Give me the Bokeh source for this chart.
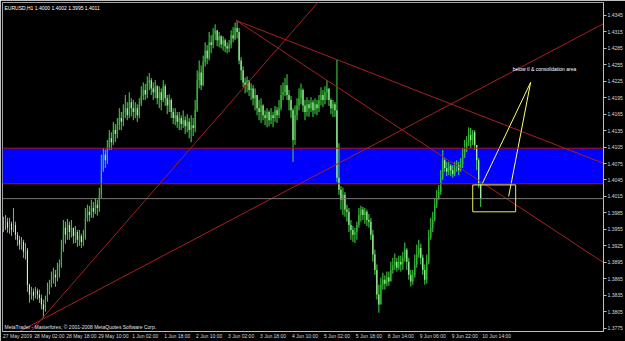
from bokeh.plotting import figure
from bokeh.models import (Range1d, FixedTicker, LinearAxis, PrintfTickFormatter, Span,
                          BoxAnnotation, Label, ColumnDataSource)
from bokeh.embed import file_html
from bokeh.resources import INLINE

# ---------------- data (EURUSD H1) ----------------
first_open = 1.3960
closes = [
    1.3963, 1.3969, 1.3958, 1.3965, 1.3954, 1.3963, 1.3945, 1.3936, 1.3927, 1.3932,
    1.3914, 1.3918, 1.3854, 1.3836, 1.3841, 1.3834, 1.3843, 1.3836, 1.3830, 1.3818,
    1.3809, 1.3827, 1.3841, 1.3854, 1.3863, 1.3872, 1.3867, 1.3881, 1.3889, 1.3918,
    1.3958, 1.3945, 1.3963, 1.3950, 1.3958, 1.3943, 1.3950, 1.3936, 1.3943, 1.3932,
    1.3940, 1.3976, 1.3987, 1.3981, 1.3994, 1.3987, 1.4000, 1.3994, 1.4018, 1.4063,
    1.4091, 1.4081, 1.4103, 1.4121, 1.4114, 1.4136, 1.4129, 1.4145, 1.4158, 1.4151,
    1.4169, 1.4176, 1.4163, 1.4187, 1.4176, 1.4169, 1.4176, 1.4163, 1.4183, 1.4198,
    1.4209, 1.4201, 1.4223, 1.4227, 1.4212, 1.4205, 1.4216, 1.4194, 1.4205, 1.4191,
    1.4216, 1.4194, 1.4181, 1.4191, 1.4169, 1.4158, 1.4163, 1.4151, 1.4158, 1.4147,
    1.4154, 1.4143, 1.4151, 1.4136, 1.4145, 1.4140, 1.4172, 1.4227, 1.4241, 1.4218,
    1.4260, 1.4281, 1.4267, 1.4296, 1.4291, 1.4311, 1.4318, 1.4300, 1.4307, 1.4292,
    1.4300, 1.4289, 1.4285, 1.4292, 1.4309, 1.4303, 1.4322, 1.4315, 1.4263, 1.4245,
    1.4223, 1.4218, 1.4227, 1.4209, 1.4212, 1.4194, 1.4200, 1.4176, 1.4169, 1.4181,
    1.4163, 1.4158, 1.4169, 1.4154, 1.4163, 1.4158, 1.4172, 1.4163, 1.4176, 1.4200,
    1.4205, 1.4218, 1.4200, 1.4191, 1.4172, 1.4118, 1.4163, 1.4181, 1.4194, 1.4209,
    1.4181, 1.4169, 1.4183, 1.4176, 1.4187, 1.4172, 1.4183, 1.4176, 1.4191, 1.4200,
    1.4191, 1.4205, 1.4212, 1.4191, 1.4176, 1.4183, 1.4172, 1.4049, 1.4027, 1.4009,
    1.4018, 1.3991, 1.3987, 1.3963, 1.3954, 1.3945, 1.3950, 1.3963, 1.3981, 1.3991,
    1.3981, 1.3987, 1.3972, 1.3969, 1.3945, 1.3909, 1.3881, 1.3836, 1.3818, 1.3854,
    1.3863, 1.3856, 1.3867, 1.3860, 1.3881, 1.3889, 1.3896, 1.3885, 1.3896, 1.3891,
    1.3903, 1.3918, 1.3896, 1.3872, 1.3860, 1.3871, 1.3891, 1.3909, 1.3921, 1.3903,
    1.3881, 1.3863, 1.3896, 1.3940, 1.3958, 1.3972, 1.4000, 1.4012, 1.4023, 1.4049,
    1.4081, 1.4067, 1.4060, 1.4071, 1.4063, 1.4056, 1.4067, 1.4072, 1.4063, 1.4074,
    1.4091, 1.4103, 1.4114, 1.4127, 1.4118, 1.4132, 1.4109, 1.4081, 1.4036, 1.4011,
]
highs = [
    1.3978, 1.3981, 1.3976, 1.3976, 1.3969, 1.3994, 1.3969, 1.3950, 1.3943, 1.3941,
    1.3936, 1.3930, 1.3921, 1.3856, 1.3850, 1.3847, 1.3850, 1.3847, 1.3845, 1.3836,
    1.3827, 1.3834, 1.3858, 1.3863, 1.3878, 1.3885, 1.3881, 1.3894, 1.3900, 1.3936,
    1.3972, 1.3969, 1.3974, 1.3969, 1.3972, 1.3958, 1.3961, 1.3954, 1.3954, 1.3947,
    1.3954, 1.3994, 1.4000, 1.3998, 1.4009, 1.4005, 1.4012, 1.4009, 1.4031, 1.4091,
    1.4103, 1.4100, 1.4118, 1.4136, 1.4132, 1.4151, 1.4147, 1.4158, 1.4176, 1.4169,
    1.4183, 1.4200, 1.4187, 1.4205, 1.4194, 1.4191, 1.4187, 1.4183, 1.4194, 1.4216,
    1.4223, 1.4220, 1.4234, 1.4240, 1.4231, 1.4223, 1.4227, 1.4218, 1.4216, 1.4212,
    1.4227, 1.4220, 1.4200, 1.4201, 1.4194, 1.4176, 1.4176, 1.4169, 1.4169, 1.4163,
    1.4172, 1.4161, 1.4165, 1.4158, 1.4163, 1.4158, 1.4191, 1.4245, 1.4263, 1.4254,
    1.4272, 1.4296, 1.4291, 1.4315, 1.4309, 1.4322, 1.4329, 1.4318, 1.4315, 1.4309,
    1.4307, 1.4303, 1.4296, 1.4300, 1.4318, 1.4324, 1.4332, 1.4336, 1.4322, 1.4269,
    1.4252, 1.4232, 1.4234, 1.4227, 1.4221, 1.4218, 1.4212, 1.4198, 1.4191, 1.4194,
    1.4183, 1.4172, 1.4176, 1.4172, 1.4176, 1.4169, 1.4180, 1.4178, 1.4191, 1.4218,
    1.4223, 1.4231, 1.4238, 1.4209, 1.4198, 1.4176, 1.4181, 1.4194, 1.4212, 1.4221,
    1.4212, 1.4191, 1.4196, 1.4191, 1.4196, 1.4191, 1.4194, 1.4191, 1.4200, 1.4214,
    1.4209, 1.4216, 1.4227, 1.4212, 1.4194, 1.4191, 1.4187, 1.4265, 1.4112, 1.4034,
    1.4031, 1.4023, 1.4000, 1.3994, 1.3972, 1.3961, 1.3958, 1.3969, 1.3994, 1.3998,
    1.3996, 1.3994, 1.3991, 1.3983, 1.3976, 1.3954, 1.3918, 1.3891, 1.3854, 1.3867,
    1.3876, 1.3871, 1.3878, 1.3878, 1.3896, 1.3903, 1.3911, 1.3903, 1.3907, 1.3907,
    1.3914, 1.3931, 1.3921, 1.3903, 1.3881, 1.3881, 1.3909, 1.3927, 1.3936, 1.3929,
    1.3909, 1.3891, 1.3909, 1.3954, 1.3976, 1.3987, 1.4012, 1.4027, 1.4036, 1.4063,
    1.4100, 1.4085, 1.4078, 1.4078, 1.4074, 1.4072, 1.4078, 1.4081, 1.4078, 1.4085,
    1.4103, 1.4118, 1.4125, 1.4141, 1.4140, 1.4136, 1.4136, 1.4103, 1.4085, 1.4040,
]
lows = [
    1.3950, 1.3954, 1.3949, 1.3947, 1.3943, 1.3950, 1.3936, 1.3925, 1.3918, 1.3918,
    1.3903, 1.3900, 1.3841, 1.3821, 1.3827, 1.3825, 1.3829, 1.3827, 1.3821, 1.3809,
    1.3794, 1.3805, 1.3823, 1.3836, 1.3849, 1.3856, 1.3850, 1.3860, 1.3867, 1.3885,
    1.3914, 1.3929, 1.3936, 1.3936, 1.3940, 1.3929, 1.3930, 1.3923, 1.3925, 1.3921,
    1.3925, 1.3936, 1.3969, 1.3969, 1.3976, 1.3976, 1.3983, 1.3980, 1.3987, 1.4012,
    1.4060, 1.4067, 1.4074, 1.4100, 1.4100, 1.4109, 1.4114, 1.4121, 1.4136, 1.4136,
    1.4143, 1.4158, 1.4154, 1.4158, 1.4161, 1.4154, 1.4158, 1.4151, 1.4158, 1.4180,
    1.4191, 1.4191, 1.4194, 1.4209, 1.4200, 1.4191, 1.4194, 1.4183, 1.4176, 1.4172,
    1.4187, 1.4180, 1.4165, 1.4169, 1.4158, 1.4147, 1.4145, 1.4140, 1.4136, 1.4136,
    1.4140, 1.4129, 1.4132, 1.4121, 1.4114, 1.4125, 1.4132, 1.4169, 1.4212, 1.4209,
    1.4216, 1.4252, 1.4256, 1.4263, 1.4276, 1.4285, 1.4300, 1.4289, 1.4287, 1.4285,
    1.4281, 1.4278, 1.4276, 1.4278, 1.4285, 1.4296, 1.4300, 1.4303, 1.4256, 1.4227,
    1.4214, 1.4203, 1.4205, 1.4198, 1.4191, 1.4181, 1.4172, 1.4163, 1.4154, 1.4149,
    1.4154, 1.4145, 1.4141, 1.4143, 1.4147, 1.4141, 1.4151, 1.4149, 1.4158, 1.4172,
    1.4191, 1.4198, 1.4191, 1.4172, 1.4158, 1.4078, 1.4109, 1.4154, 1.4172, 1.4183,
    1.4169, 1.4154, 1.4161, 1.4160, 1.4169, 1.4160, 1.4165, 1.4163, 1.4169, 1.4181,
    1.4178, 1.4183, 1.4191, 1.4180, 1.4165, 1.4160, 1.4160, 1.4041, 1.4018, 1.3991,
    1.3981, 1.3978, 1.3969, 1.3950, 1.3936, 1.3932, 1.3930, 1.3936, 1.3958, 1.3969,
    1.3972, 1.3965, 1.3961, 1.3958, 1.3936, 1.3896, 1.3872, 1.3827, 1.3803, 1.3818,
    1.3845, 1.3845, 1.3851, 1.3852, 1.3860, 1.3874, 1.3881, 1.3878, 1.3881, 1.3878,
    1.3881, 1.3896, 1.3881, 1.3863, 1.3851, 1.3854, 1.3867, 1.3885, 1.3903, 1.3891,
    1.3872, 1.3854, 1.3856, 1.3891, 1.3936, 1.3950, 1.3969, 1.3994, 1.4009, 1.4018,
    1.4045, 1.4060, 1.4052, 1.4054, 1.4052, 1.4049, 1.4052, 1.4060, 1.4054, 1.4060,
    1.4067, 1.4085, 1.4096, 1.4107, 1.4103, 1.4109, 1.4100, 1.4063, 1.4031, 1.3996,
]

price_ticks = [1.3775, 1.3805, 1.3835, 1.3865, 1.3895, 1.3925, 1.3955, 1.3985, 1.4015,
               1.4045, 1.4075, 1.4105, 1.4135, 1.4165, 1.4195, 1.4225, 1.4255, 1.4285,
               1.4315, 1.4345]
date_tick_bars = [-1, 15, 31, 47, 63, 79, 95, 111, 127, 143, 159, 175, 191, 207, 223, 239]
date_labels = ["27 May 2009", "28 May 02:00", "28 May 18:00", "29 May 10:00", "1 Jun 02:00",
               "1 Jun 18:00", "2 Jun 10:00", "3 Jun 02:00", "3 Jun 18:00", "4 Jun 10:00",
               "5 Jun 02:00", "5 Jun 18:00", "8 Jun 14:00", "9 Jun 06:00", "9 Jun 22:00",
               "10 Jun 14:00"]

level_top = 1.4103
level_bottom = 1.4038
bid_price = 1.4011

# trend lines: anchor points (bar index, price)
tl_x0 = [18.5, 18.5, 116.5, 116.5]
tl_p0 = [1.3789, 1.3789, 1.4336, 1.4336]
tl_x1 = [157.5, 301.5, 301.5, 301.5]
tl_p1 = [1.4369, 1.4332, 1.4074, 1.3892]
tl_extend_back = [True, True, False, False]

# yellow annotation: box and pointer lines
box_left, box_right = 235, 256.5
box_bottom, box_top = 1.3987, 1.4036
note_x, note_p = 264, 1.4223
ptr_x = [239.5, 253]
ptr_p = [1.4036, 1.4015]
note_text = "below tl & consolidation area"
note_text_x, note_text_p = 255, 1.4247

title_text = "EURUSD,H1  1.4000 1.4002 1.3995 1.4011"
copy_text = "MetaTrader - Masterforex, \u00a9 2001-2008 MetaQuotes Software Corp."

# ---------------- chart ----------------
FONT = "Liberation Sans"
n = len(closes)
bars = list(range(n))
opens = [first_open] + closes[:-1]
hi = [max(h, o, c) for h, o, c in zip(highs, opens, closes)]
lo = [min(l, o, c) for l, o, c in zip(lows, opens, closes)]
WICK = "#44dd44"
fills = ["#33c033" if c >= o else "#b8ffb8" for o, c in zip(opens, closes)]
src = ColumnDataSource(dict(x=bars, h=hi, l=lo,
                            top=[max(o, c) for o, c in zip(opens, closes)],
                            bottom=[min(o, c) for o, c in zip(opens, closes)],
                            fill=fills))

Y_LO, Y_HI = 1.37687, 1.43687
p = figure(width=625, height=341, x_range=Range1d(-0.5, 300.5),
           y_range=Range1d(Y_LO, Y_HI),
           output_backend="svg", toolbar_location=None,
           x_axis_location=None, y_axis_location=None,
           background_fill_color="black", border_fill_color="black",
           min_border_left=2, min_border_top=2, min_border_right=0, min_border_bottom=0)
p.outline_line_color = "#a0a0a0"
p.grid.visible = False

# blue zone with red borders
p.add_layout(BoxAnnotation(bottom=level_bottom, top=level_top, fill_color="#0000ff",
                           fill_alpha=1.0, line_color=None, level="underlay"))
for lv in (level_top, level_bottom):
    p.add_layout(Span(location=lv, dimension="width", line_color="#b01818", line_width=1))
p.add_layout(Span(location=bid_price, dimension="width", line_color="#7a7a7a", line_width=1))

# candles
p.segment(x0="x", y0="h", x1="x", y1="l", source=src, line_color=WICK, line_width=1)
p.vbar(x="x", width=0.55, top="top", bottom="bottom", source=src,
       fill_color="fill", line_color=None)

# trend lines (rays)
xs0, ys0, xs1, ys1 = [], [], [], []
for x0, p0, x1, p1, back in zip(tl_x0, tl_p0, tl_x1, tl_p1, tl_extend_back):
    m = (p1 - p0) / (x1 - x0)
    xa = x0 - 30 if back else x0
    xb = 330
    xs0.append(xa); ys0.append(p0 + m * (xa - x0))
    xs1.append(xb); ys1.append(p0 + m * (xb - x0))
p.segment(x0=xs0, y0=ys0, x1=xs1, y1=ys1, line_color="#a82020", line_width=1)

# yellow box and pointers
p.add_layout(BoxAnnotation(left=box_left, right=box_right, bottom=box_bottom, top=box_top,
                           fill_alpha=0, line_color="#f0e850", line_alpha=1.0, line_width=1))
p.segment(x0=[note_x] * len(ptr_x), y0=[note_p] * len(ptr_x), x1=ptr_x, y1=ptr_p,
          line_color="#ffff70", line_width=1)

TXT = dict(text_font=FONT, text_font_size="5px")
p.add_layout(Label(x=note_text_x, y=note_text_p, text=note_text, text_color="white",
                   text_baseline="middle", text_align="left", **TXT))
p.add_layout(Label(x=-0.5, y=Y_HI, x_offset=2, y_offset=-2, text=title_text,
                   text_color="white", text_baseline="top", **TXT))
p.add_layout(Label(x=-0.5, y=Y_LO, x_offset=2, y_offset=2, text=copy_text,
                   text_color="#e0e0e0", text_baseline="bottom", **TXT))

# axes
yax = LinearAxis(ticker=FixedTicker(ticks=price_ticks, minor_ticks=[]),
                 formatter=PrintfTickFormatter(format="%.4f"))
yax.axis_line_color = "#c0c0c0"
yax.major_tick_line_color = "#c0c0c0"
yax.major_tick_out = 3
yax.major_tick_in = 0
yax.minor_tick_line_color = None
yax.minor_tick_out = 0
yax.minor_tick_in = 0
yax.major_label_standoff = 1
yax.major_label_text_color = "#d8d8d8"
yax.major_label_text_font = FONT
yax.major_label_text_font_size = "5px"
p.add_layout(yax, "right")

label_pos = [b + 8 for b in date_tick_bars]
xax = LinearAxis(ticker=FixedTicker(ticks=label_pos, minor_ticks=[]),
                 major_label_overrides={pos: lab for pos, lab in zip(label_pos, date_labels)})
xax.axis_line_color = "#c0c0c0"
xax.major_tick_line_color = None
xax.major_tick_out = 0
xax.major_tick_in = 0
xax.minor_tick_line_color = None
xax.minor_tick_out = 0
xax.minor_tick_in = 0
xax.major_label_standoff = 1
xax.major_label_text_color = "#d8d8d8"
xax.major_label_text_font = FONT
xax.major_label_text_font_size = "5px"
p.add_layout(xax, "below")

# small separator marks at the time-axis tick positions
for b in date_tick_bars[1:]:
    p.add_layout(Label(x=b, y=Y_LO, y_offset=-1, text="|", text_color="#b0b0b0",
                       text_align="center", text_baseline="top",
                       text_font=FONT, text_font_size="6px"))

# price tags on the right axis
for lv, bg, fg in ((level_top, "#e01010", "white"), (level_bottom, "#e01010", "white"),
                   (bid_price, "white", "black")):
    p.add_layout(Label(x=300.5, y=lv, x_offset=3, text=f"{lv:.4f}", text_color=fg,
                       background_fill_color=bg, text_baseline="middle", **TXT))

open("out.html", "w").write(file_html(p, INLINE))
